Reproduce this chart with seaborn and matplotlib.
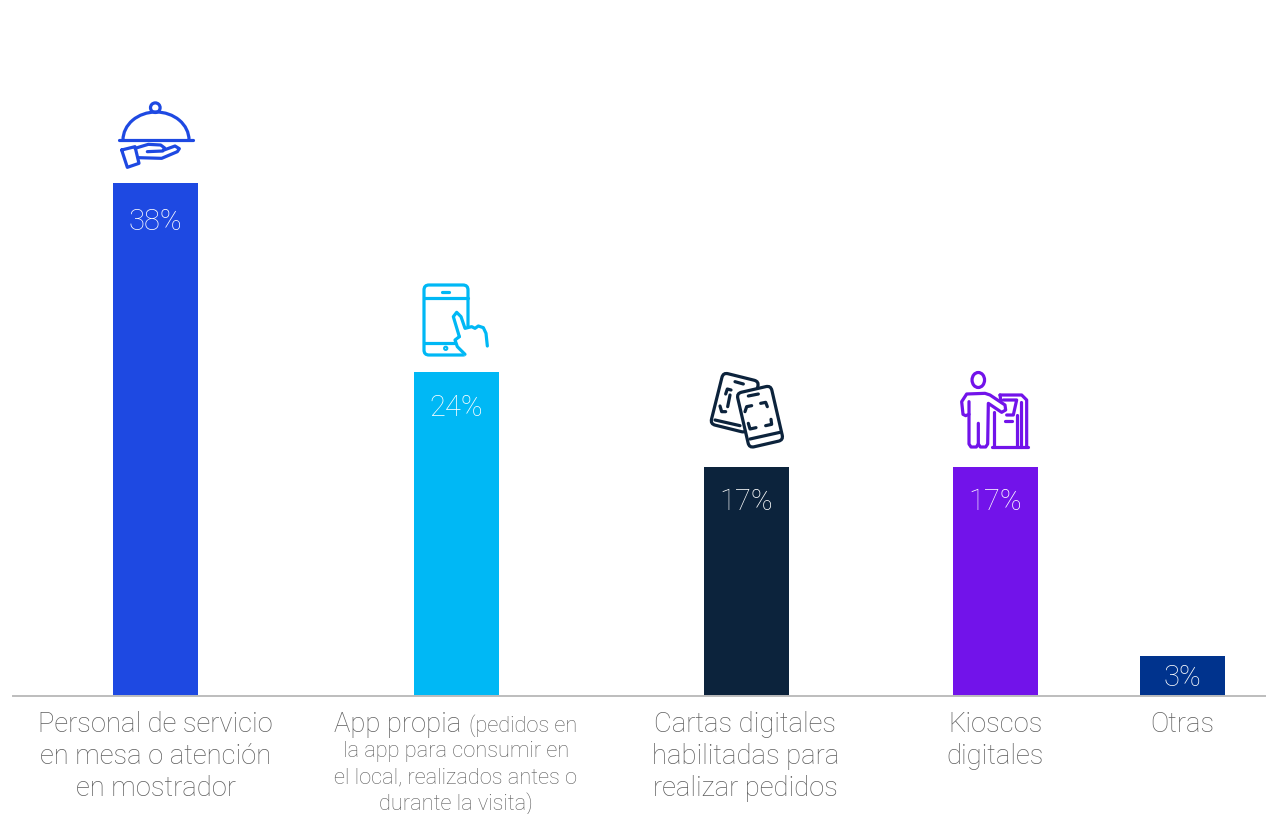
import matplotlib
matplotlib.use("Agg")
import matplotlib.pyplot as plt
import pandas as pd
import seaborn as sns
from matplotlib.patches import Circle, Ellipse, FancyBboxPatch, Polygon, Arc
from matplotlib.transforms import Affine2D

# Chart data
options = ["Personal", "App", "Cartas", "Kioscos", "Otras"]
shares = [38, 24, 17, 17, 3]
bar_colors = ["#1E49E2", "#00B8F5", "#0C233C", "#7213EA", "#00338D"]
category_labels = [
    "Personal de servicio\nen mesa o atención\nen mostrador",
    None,
    "Cartas digitales\nhabilitadas para\nrealizar pedidos",
    "Kioscos\ndigitales",
    "Otras",
]
app_title = "App propia"
app_note_first = "(pedidos en"
app_note_rest = ["la app para consumir en", "el local, realizados antes o", "durante la visita)"]

# Layout, in pixels of the 1266x814 canvas
W, H = 1266, 814
BASE_Y = 696
PX_PER_POINT = 13.5
bar_centres = [155.5, 456.5, 746.5, 995.5, 1182.5]
caption_centres = [155.5, 456, 745.5, 995.5, 1182]
label_drops = [39, 36, 36, 36, 22]
BAR_W = 85
TEXT = "#5E5E5E"
FONT = "Roboto"

sns.set_theme(style="white")
plt.rcParams["font.family"] = [FONT, "DejaVu Sans"]
plt.rcParams["font.weight"] = "light"

fig = plt.figure(figsize=(W / 100, H / 100), dpi=100, facecolor="white")
ax = fig.add_axes([13 / W, 1 - BASE_Y / H, (W - 13) / W, BASE_Y / H])

df = pd.DataFrame({"pos": bar_centres, "share": shares, "option": options})
spacing = min(b - a for a, b in zip(bar_centres, bar_centres[1:]))
sns.barplot(
    data=df, x="pos", y="share", hue="option", hue_order=options,
    palette=bar_colors, native_scale=True, dodge=False,
    width=BAR_W / spacing, legend=False, saturation=1, linewidth=0, ax=ax,
)
ax.set_xlim(13, W)
ax.set_ylim(0, BASE_Y / PX_PER_POINT)
ax.set(xlabel="", ylabel="", xticks=[], yticks=[])
sns.despine(ax=ax, left=True)
ax.spines["bottom"].set_color("#BDBDBD")
ax.spines["bottom"].set_linewidth(1.4)

for container, value, drop in zip(ax.containers, shares, label_drops):
    for label in ax.bar_label(container, labels=[f"{value}%"], label_type="edge",
                              color="white", fontsize=21, padding=-drop * 0.72,
                              fontweight="light"):
        label.set_verticalalignment("center")

# Overlay in canvas pixels for the category captions and pictograms
ov = fig.add_axes([0, 0, 1, 1], facecolor="none")
ov.set_xlim(0, W)
ov.set_ylim(H, 0)
ov.axis("off")

LARGE = 19.7
SMALL = 15.7
for x, label in zip(caption_centres, category_labels):
    if label:
        for i, line in enumerate(label.split("\n")):
            ov.text(x, 725 + 32 * i, line, ha="center", va="center",
                    fontsize=LARGE, color=TEXT)

ov.text(334, 725, app_title, ha="left", va="center", fontsize=LARGE, color=TEXT)
ov.text(469, 726, app_note_first, ha="left", va="center", fontsize=SMALL, color=TEXT)
for i, line in enumerate(app_note_rest):
    ov.text(456, 752 + 26 * i, line, ha="center", va="center", fontsize=SMALL, color=TEXT)

LW = 2.3


def stroke(points, color, z=5, lw=LW):
    xs, ys = zip(*points)
    ov.plot(xs, ys, color=color, lw=lw, solid_capstyle="round",
            solid_joinstyle="round", zorder=z)


def zoomed(origin, points):
    # Icon outlines are sketched at triple scale from a local origin
    return [(origin[0] + px / 3, origin[1] + py / 3) for px, py in points]


def rotated_card(cx, cy, w, h, angle, color, z):
    card = FancyBboxPatch((cx - w / 2 + 5, cy - h / 2 + 5), w - 10, h - 10,
                          boxstyle="round,pad=5,rounding_size=5",
                          fc="white", ec=color, lw=LW, zorder=z)
    card.set_transform(Affine2D().rotate_deg_around(cx, cy, angle) + ov.transData)
    ov.add_patch(card)


# Serving cloche on an open hand
c = bar_colors[0]
o = (90, 90)
ov.add_patch(Circle((155.3, 107.7), 4.8, fc="none", ec=c, lw=LW, zorder=5))
ov.add_patch(Arc((156, 140), 66, 56, theta1=180, theta2=360, ec=c, lw=LW, zorder=5))
stroke([(118.5, 140.4), (192.5, 140.4)], c)
stroke(zoomed(o, [(95, 180), (135, 170), (147, 220), (112, 232), (95, 180)]), c)
stroke(zoomed(o, [(135, 175), (175, 163), (212, 165), (224, 174), (218, 183), (172, 185)]), c)
stroke(zoomed(o, [(222, 180), (255, 168), (268, 176), (262, 185), (215, 205), (145, 203)]), c)

# Phone with a tapping finger
c = bar_colors[1]
o = (400, 275)
ov.add_patch(FancyBboxPatch((429, 290), 34, 60, boxstyle="round,pad=5,rounding_size=5",
                            fc="white", ec=c, lw=LW, zorder=4))
stroke(zoomed(o, [(72, 68), (205, 68)]), c)
stroke(zoomed(o, [(72, 203), (175, 203)]), c)
stroke(zoomed(o, [(126, 50), (146, 50)]), c)
ov.add_patch(Circle((445.7, 348.3), 1.6, fc="none", ec=c, lw=1.5, zorder=5))
hand = zoomed(o, [(178, 185), (160, 125), (170, 112), (183, 125), (195, 160), (215, 155),
                  (225, 160), (235, 153), (250, 158), (258, 175), (262, 213), (262, 245),
                  (195, 245), (172, 215), (165, 195)])
ov.add_patch(Polygon(hand, fc="white", ec="none", zorder=5))
stroke(zoomed(o, [(178, 185), (160, 125), (170, 112), (183, 125), (195, 160), (215, 155),
                  (225, 160), (235, 153), (250, 158), (258, 175), (262, 213)]), c, z=6)
stroke(zoomed(o, [(178, 185), (165, 195), (172, 215), (195, 238)]), c, z=6)

# Two phones showing scan frames
c = bar_colors[2]
o = (695, 360)
rotated_card(734.7, 402.7, 37, 53, 14, c, 4)
for seg in ([(120, 65), (145, 72)], [(60, 180), (135, 197)],
            [(92, 102), (97, 87), (108, 90)], [(75, 138), (80, 155), (92, 155)],
            [(105, 105), (98, 140)]):
    stroke(zoomed(o, seg), c)
rotated_card(760, 416.7, 35, 56, -13, c, 6)
for seg in ([(160, 108), (190, 102)], [(165, 237), (255, 217)],
            [(150, 155), (155, 140), (170, 137)], [(197, 130), (212, 127), (217, 140)],
            [(160, 190), (165, 207), (183, 203)], [(212, 197), (230, 193), (228, 178)]):
    stroke(zoomed(o, seg), c, z=7)

# Person at a self-service kiosk
c = bar_colors[3]
o = (945, 360)
ov.add_patch(Ellipse((978.3, 380), 12.5, 15, fc="none", ec=c, lw=LW, zorder=5))
stroke(zoomed(o, [(72, 125), (72, 163), (62, 167), (54, 163), (50, 125), (65, 102), (120, 100),
                  (135, 105), (180, 135), (182, 150), (170, 157), (130, 130), (128, 252),
                  (122, 261), (106, 261), (100, 252), (100, 190)]), c)
stroke(zoomed(o, [(72, 163), (72, 252), (78, 261), (94, 261), (100, 252)]), c)
for seg in ([(140, 262), (250, 262)], [(148, 155), (148, 262)],
            [(165, 105), (230, 105), (245, 120), (245, 262)], [(165, 105), (168, 125)],
            [(175, 120), (215, 120), (205, 165), (185, 165)], [(215, 165), (215, 262)],
            [(180, 183), (200, 183)], [(228, 125), (228, 262)]):
    stroke(zoomed(o, seg), c)

fig.savefig("out.png", dpi=100, facecolor="white")
